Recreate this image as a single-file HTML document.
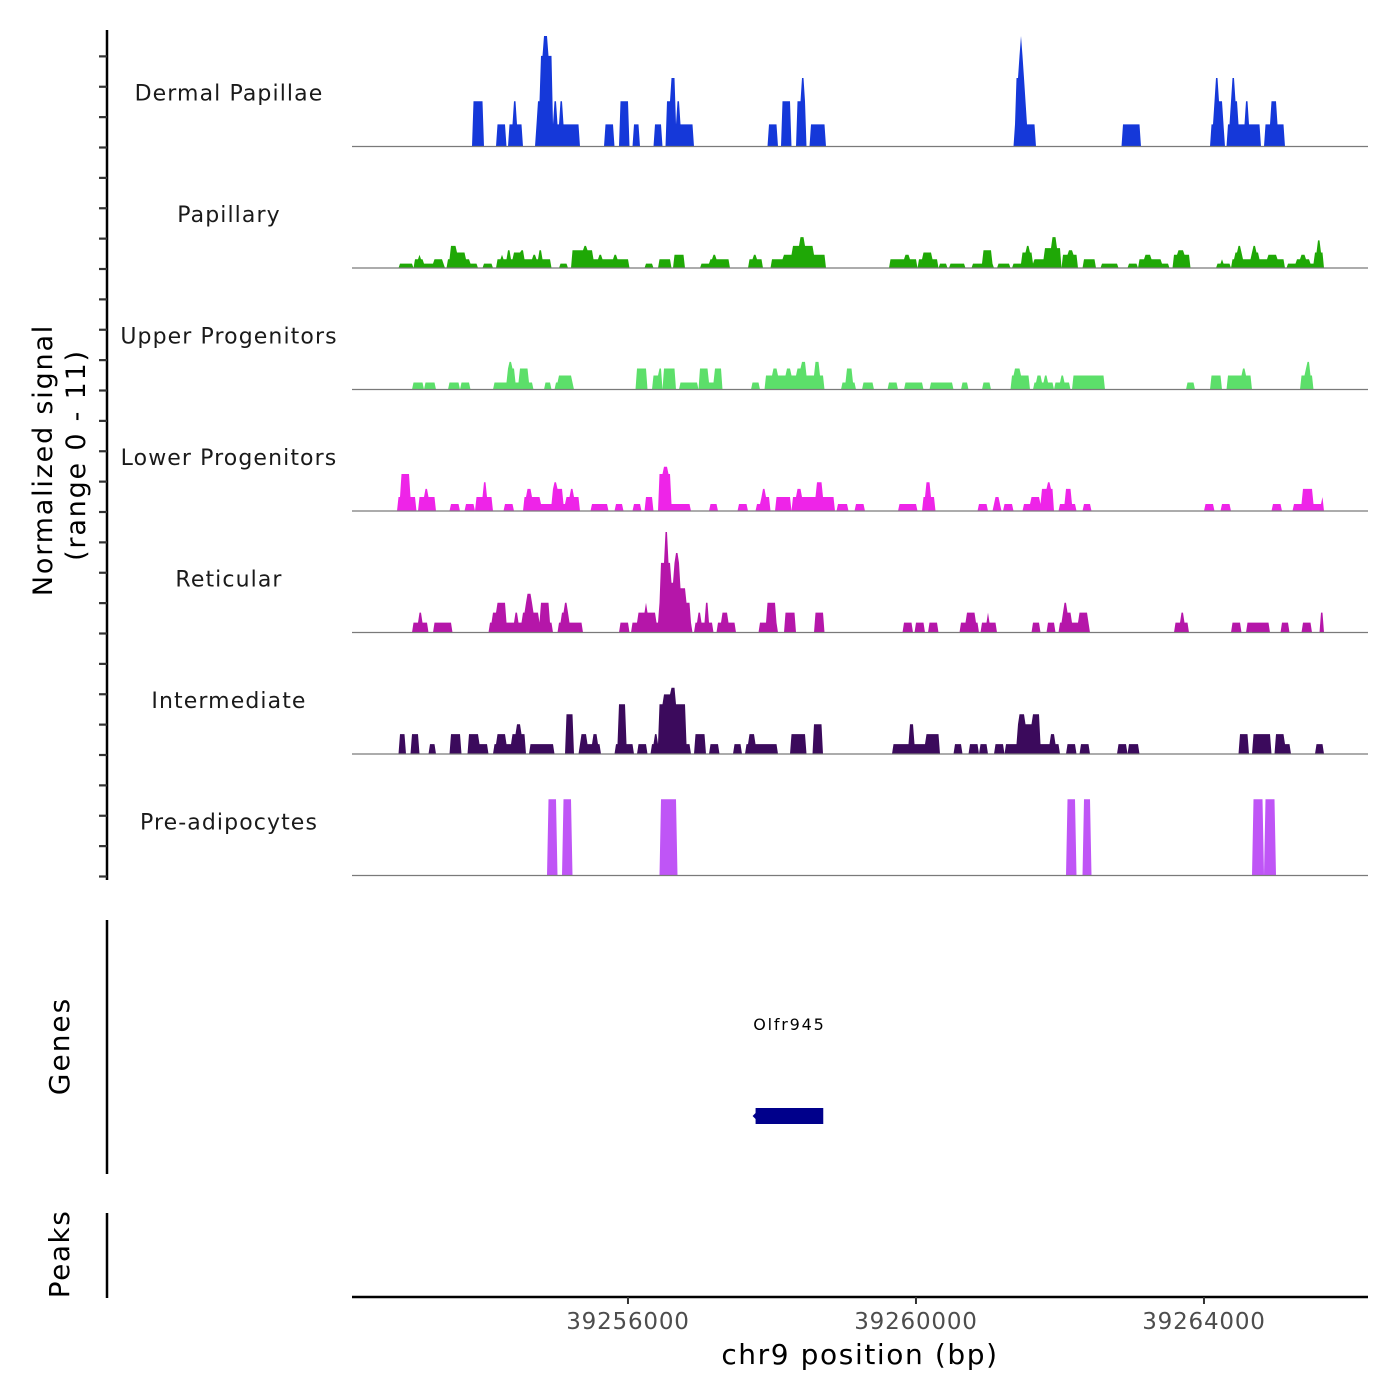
<!DOCTYPE html>
<html><head><meta charset="utf-8"><style>
body{margin:0;background:#fff}
svg{display:block;font-family:"DejaVu Sans","Liberation Sans",sans-serif}
</style></head><body>
<svg id="chart" width="1400" height="1400" viewBox="0 0 1400 1400" xmlns="http://www.w3.org/2000/svg">
<g id="tracks"></g>
<g id="axes"></g>
</svg>
<script>
// positions in kb relative to chr9:39,250,000 ; values in normalized signal
const regionStartKb = 2.167, regionEndKb = 16.278;
const xTickValues = [39256000, 39260000, 39264000];
const xTickLabels = ["39256000", "39260000", "39264000"];
const trackNames = ["Dermal Papillae","Papillary","Upper Progenitors","Lower Progenitors","Reticular","Intermediate","Pre-adipocytes"];
const trackColors = ["#1538d9","#1fa806","#5cdf6a","#ee24e8","#b516a9","#3b0a5c","#bf55f6"];
const yRangeMax = 11;

const dermal = [[3.86,3.99,4.1],[4.19,4.29,2],[4.36,4.53,2],[4.42,4.44,4.1],[4.72,5.17,2],[4.74,4.94,4.1],[4.79,4.94,8.2],[4.82,4.875,10],[4.89,4.92,8.2],[4.97,5.00,4.1],[5.06,5.08,4.1],[5.19,5.32,2],[5.68,5.79,2],[5.90,6.01,4.1],[6.07,6.15,2],[6.375,6.47,2],[6.53,6.89,2],[6.54,6.65,4.1],[6.61,6.64,6.2],[6.68,6.71,4.1],[7.96,8.06,2],[8.15,8.26,4.1],[8.35,8.46,4.1],[8.42,8.44,6.2],[8.54,8.74,2],[11.375,11.65,2],[11.39,11.53,4.1],[11.40,11.51,6.2],[11.43,11.49,8.2],[11.46,11.47,10],[12.875,13.10,2],[14.10,14.28,2],[14.15,14.26,4.1],[14.17,14.19,6.2],[14.32,14.67,2],[14.375,14.47,4.1],[14.39,14.42,6.2],[14.57,14.60,4.1],[14.68,14.78,2],[14.86,15.10,2],[14.96,15.01,4.1],[14.94,14.97,4.1]];
const papillary = [[2.83,3.00,0.4],[3.04,3.44,0.4],[3.04,3.14,0.8],[3.10,3.11,1.2],[3.31,3.43,0.8],[3.49,3.79,0.8],[3.54,3.60,2.0],[3.60,3.74,1.4],[3.81,3.90,0.4],[3.99,4.11,0.4],[4.18,4.92,0.8],[4.25,4.26,1.2],[4.33,4.36,1.6],[4.42,4.50,1.4],[4.51,4.54,1.6],[4.69,4.72,1.2],[4.76,4.79,1.6],[5.06,5.15,0.4],[5.22,5.50,1.6],[5.39,5.42,2.0],[5.50,6.00,0.8],[5.60,5.62,1.2],[5.81,5.83,1.2],[6.24,6.33,0.4],[6.43,6.58,0.8],[6.64,6.78,1.2],[7.01,7.13,0.4],[7.14,7.40,0.8],[7.19,7.22,1.2],[7.68,7.86,0.8],[7.75,7.78,1.2],[7.99,8.14,0.8],[8.17,8.74,1.2],[8.28,8.56,2.0],[8.39,8.44,2.8],[9.64,10.01,0.8],[9.86,9.89,1.2],[10.03,10.29,0.8],[10.11,10.22,1.4],[10.32,10.43,0.4],[10.47,10.68,0.4],[10.78,11.06,0.4],[10.93,11.04,1.6],[11.14,11.29,0.4],[11.36,11.64,0.4],[11.47,11.61,1.4],[11.54,11.57,2.0],[11.65,12.01,0.8],[11.79,12.01,1.8],[11.89,11.94,2.8],[12.03,12.24,1.2],[12.13,12.18,1.6],[12.32,12.49,0.8],[12.58,12.79,0.4],[12.96,13.07,0.4],[13.11,13.39,0.8],[13.19,13.25,1.2],[13.42,13.51,0.4],[13.57,13.79,1.2],[13.64,13.72,1.6],[14.18,14.36,0.4],[14.24,14.25,0.8],[14.39,14.60,0.8],[14.44,14.53,1.4],[14.47,14.50,2.0],[14.60,14.82,0.8],[14.67,14.75,1.4],[14.69,14.72,2.0],[14.83,15.11,0.8],[14.89,15.00,1.2],[15.17,15.65,0.4],[15.28,15.47,0.8],[15.36,15.39,1.2],[15.54,15.65,1.4],[15.58,15.61,2.5]];
const upper = [[3.01,3.14,0.63],[3.18,3.31,0.63],[3.51,3.64,0.63],[3.68,3.79,0.63],[4.15,4.35,0.63],[4.32,4.43,1.9],[4.35,4.38,2.5],[4.43,4.67,0.63],[4.50,4.60,1.9],[4.85,4.93,0.63],[4.99,5.24,0.63],[5.04,5.22,1.27],[6.13,6.26,1.9],[6.35,6.47,1.27],[6.43,6.46,1.9],[6.50,6.64,1.9],[6.72,6.96,0.63],[6.99,7.10,1.9],[7.11,7.29,0.63],[7.21,7.29,1.9],[7.72,7.82,0.63],[7.92,8.14,1.27],[8.01,8.07,1.9],[8.14,8.72,1.27],[8.21,8.26,1.9],[8.35,8.40,1.9],[8.42,8.47,2.5],[8.60,8.65,2.5],[8.97,9.15,0.63],[9.04,9.10,1.9],[9.26,9.39,0.63],[9.63,9.74,0.63],[9.85,10.08,0.63],[10.21,10.51,0.63],[10.64,10.72,0.63],[10.93,11.03,0.63],[11.33,11.57,1.27],[11.38,11.44,1.9],[11.64,11.89,0.63],[11.69,11.74,1.27],[11.78,11.81,1.27],[11.94,12.13,0.63],[12.01,12.04,1.27],[12.18,12.60,1.27],[13.76,13.86,0.63],[14.10,14.24,1.27],[14.33,14.65,1.27],[14.54,14.57,1.9],[15.36,15.51,1.27],[15.42,15.47,1.9],[15.44,15.46,2.5]];
const lower = [[2.81,3.04,1.27],[2.86,2.96,3.35],[3.10,3.31,1.27],[3.18,3.22,2.0],[3.53,3.64,0.63],[3.75,3.86,0.63],[3.90,4.10,1.27],[3.99,4.03,2.6],[4.29,4.40,0.63],[4.56,5.31,0.63],[4.56,4.78,1.27],[4.61,4.65,2.0],[4.96,5.08,2.0],[4.97,5.00,2.6],[5.14,5.31,1.27],[5.21,5.24,2.0],[5.49,5.72,0.63],[5.82,5.92,0.63],[6.07,6.17,0.63],[6.24,6.33,1.27],[6.44,6.58,3.35],[6.50,6.54,4.0],[6.58,6.85,0.63],[7.14,7.24,0.63],[7.54,7.65,0.63],[7.78,7.97,0.63],[7.86,7.97,1.27],[7.88,7.90,2.0],[8.06,8.26,1.27],[8.28,8.57,1.27],[8.35,8.39,2.0],[8.57,8.85,1.27],[8.62,8.69,2.6],[8.92,9.04,0.63],[9.17,9.28,0.63],[9.76,10.01,0.63],[10.10,10.25,1.27],[10.14,10.19,2.6],[10.88,10.99,0.63],[11.10,11.14,1.27],[11.07,11.17,0.63],[11.22,11.33,0.63],[11.50,11.90,0.63],[11.60,11.64,1.27],[11.67,11.71,1.27],[11.75,11.89,2.0],[11.82,11.85,2.6],[12.00,12.22,0.63],[12.08,12.15,2.0],[12.32,12.43,0.63],[14.01,14.13,0.63],[14.25,14.35,0.63],[14.96,15.07,0.63],[15.24,15.56,0.63],[15.38,15.51,2.0],[15.58,15.65,0.63],[15.64,15.65,1.27]];
const reticular = [[3.01,3.21,0.9],[3.10,3.13,1.8],[3.31,3.42,0.9],[3.44,3.54,0.9],[4.07,4.94,0.9],[4.19,4.29,2.7],[4.13,4.18,1.8],[4.44,4.47,1.8],[4.53,4.76,1.8],[4.58,4.67,2.7],[4.61,4.64,3.5],[4.78,4.90,2.7],[5.04,5.35,0.9],[5.08,5.18,1.8],[5.13,5.15,2.7],[5.89,6.00,0.9],[6.06,6.15,0.9],[6.15,6.38,1.8],[6.24,6.26,2.7],[6.38,6.88,0.9],[6.44,6.85,2.7],[6.46,6.58,6.3],[6.51,6.54,9.1],[6.58,6.64,4.5],[6.64,6.72,6.3],[6.66,6.70,7.2],[6.72,6.79,4.0],[6.93,7.17,0.9],[6.97,7.01,1.8],[7.07,7.10,2.7],[7.25,7.49,0.9],[7.31,7.38,1.8],[7.83,8.06,0.9],[7.93,8.04,2.7],[8.19,8.32,1.8],[8.60,8.72,1.8],[9.83,9.94,0.9],[10.00,10.10,0.9],[10.19,10.29,0.9],[10.63,10.85,0.9],[10.71,10.82,1.8],[10.92,11.10,0.9],[10.99,11.01,1.8],[11.63,11.71,0.9],[11.82,11.92,0.9],[11.99,12.40,0.9],[12.03,12.15,1.8],[12.06,12.08,2.7],[12.26,12.38,1.8],[13.61,13.78,0.9],[13.68,13.71,1.8],[14.39,14.50,0.9],[14.60,14.90,0.9],[15.07,15.17,0.9],[15.38,15.49,0.9],[15.62,15.65,1.8]];
const intermediate = [[2.82,2.89,1.8],[3.00,3.08,1.8],[3.24,3.32,0.9],[3.53,3.67,1.8],[3.79,3.92,1.8],[3.93,4.04,0.9],[4.15,4.38,0.9],[4.19,4.29,1.8],[4.40,4.57,1.8],[4.46,4.50,2.7],[4.65,4.75,0.9],[4.76,4.96,0.9],[5.15,5.24,3.6],[5.32,5.60,0.9],[5.36,5.42,1.8],[5.51,5.57,1.8],[5.82,6.07,0.9],[5.88,5.97,4.5],[6.15,6.26,0.9],[6.32,6.85,0.9],[6.38,6.40,1.8],[6.44,6.79,4.5],[6.50,6.64,5.4],[6.61,6.64,6.0],[6.75,6.79,3.6],[6.94,7.07,1.8],[7.15,7.26,0.9],[7.47,7.57,0.9],[7.64,7.85,0.9],[7.69,7.75,1.8],[7.88,8.07,0.9],[8.26,8.46,1.8],[8.59,8.70,2.7],[9.69,10.13,0.9],[9.92,9.97,2.7],[10.15,10.32,1.8],[10.53,10.63,0.9],[10.74,10.85,0.9],[10.90,10.99,0.9],[11.10,11.22,0.9],[11.25,11.35,0.9],[11.36,11.79,0.9],[11.42,11.60,2.7],[11.44,11.50,3.6],[11.63,11.72,3.6],[11.81,11.99,0.9],[11.88,11.91,1.8],[12.10,12.21,0.9],[12.29,12.39,0.9],[12.81,12.93,0.9],[12.96,13.08,0.9],[14.50,14.61,1.8],[14.68,14.92,1.8],[14.99,15.19,0.9],[14.99,15.10,1.8],[15.56,15.64,0.9]];
const preadipocytes = [[4.89,5.00,6.9],[5.10,5.21,6.9],[6.46,6.67,6.9],[12.11,12.22,6.9],[12.32,12.43,6.9],[14.68,14.81,6.9],[14.86,14.99,6.9]];
const trackData = [dermal,papillary,upper,lower,reticular,intermediate,preadipocytes];
const geneStartKb = 7.80, geneEndKb = 8.74;
const geneName = "Olfr945";

const NS="http://www.w3.org/2000/svg";
const X0=352, X1=1368;
function xScale(kb){return X0+(kb-regionStartKb)/(regionEndKb-regionStartKb)*(X1-X0);}
function xScaleBp(bp){return xScale(bp/1000-39250);}
const trackTop=25, trackH=121.5;
function yScale(i,v){return trackTop+(i+1)*trackH-v/yRangeMax*trackH;}
function mk(tag,attrs,parent){const e=document.createElementNS(NS,tag);for(const k in attrs)e.setAttribute(k,attrs[k]);parent.appendChild(e);return e;}
const tracks=document.getElementById('tracks');
const axes=document.getElementById('axes');
const step=1.5;
trackData.forEach((segs,i)=>{
  const g=mk('g',{},tracks);
  
  
  const base=yScale(i,0);
  let d='M'+X0+','+base;
  for(let x=X0;x<=X1;x+=step){
    let v=0;
    segs.forEach(s=>{const a=xScale(s[0]),b=xScale(s[1]);if(x>=a-0.5&&x<=b+0.5&&s[2]>v)v=s[2];});
    d+=' L'+x.toFixed(1)+','+yScale(i,v).toFixed(1);
  }
  d+=' L'+X1+','+base+' Z';
  const p=mk('path',{d:d,fill:trackColors[i]},g);
  
  
  const bl=mk('line',{x1:X0,x2:X1,y1:base,y2:base,stroke:'#7a7a7a','stroke-width':1.2},g);
  
  
  const t=mk('text',{x:229,y:base-46,'text-anchor':'middle','font-size':22,'letter-spacing':'1.1',fill:'#1a1a1a'},g);
  
  
  t.textContent=trackNames[i];
});
// left axis
mk('line',{x1:107,x2:107,y1:30,y2:880,stroke:'#000','stroke-width':2.5},axes);
for(let y=876.5;y>=40;y-=30.375){mk('line',{x1:99,x2:107,y1:y,y2:y,stroke:'#333','stroke-width':2.2},axes);}
const yt=mk('text',{transform:'translate(52,460) rotate(-90)','text-anchor':'middle','font-size':27,'letter-spacing':'1.8',fill:'#000'},axes);


yt.textContent='Normalized signal';
const yt2=mk('text',{transform:'translate(85,455) rotate(-90)','text-anchor':'middle','font-size':27,'letter-spacing':'1.8',fill:'#000'},axes);


yt2.textContent='(range 0 - 11)';
// genes
mk('line',{x1:107,x2:107,y1:920,y2:1174,stroke:'#000','stroke-width':2.5},axes);
const gt=mk('text',{transform:'translate(69,1046) rotate(-90)','text-anchor':'middle','font-size':28,'letter-spacing':'2',fill:'#000'},axes);


gt.textContent='Genes';
const gr=mk('rect',{x:xScale(geneStartKb)-2,y:1108,width:xScale(geneEndKb)-xScale(geneStartKb),height:16,fill:'#00008b'},axes);


mk('path',{d:`M${xScale(geneStartKb)-5},1116 L${xScale(geneStartKb)},1111 L${xScale(geneStartKb)},1121 Z`,fill:'#00008b'},axes);
const gl=mk('text',{x:(xScale(geneStartKb)+xScale(geneEndKb))/2-2,y:1030,'text-anchor':'middle','font-size':16,'letter-spacing':'1.8',fill:'#000'},axes);


gl.textContent=geneName;
// peaks
mk('line',{x1:107,x2:107,y1:1213,y2:1298,stroke:'#000','stroke-width':2.5},axes);
const pt=mk('text',{transform:'translate(69,1254) rotate(-90)','text-anchor':'middle','font-size':28,'letter-spacing':'1.5',fill:'#000'},axes);


pt.textContent='Peaks';
// x axis
const xa=mk('line',{x1:X0,x2:X1,y1:1297,y2:1297,stroke:'#000','stroke-width':2.5},axes);


xTickValues.forEach((v,k)=>{
  const x=xScaleBp(v);
  mk('line',{x1:x,x2:x,y1:1297,y2:1304,stroke:'#333','stroke-width':2},axes);
  const t=mk('text',{x:x,y:1329,'text-anchor':'middle','font-size':23,'letter-spacing':'0.8',fill:'#4d4d4d'},axes);
  
  
  t.textContent=xTickLabels[k];
});
const xt=mk('text',{x:860,y:1364,'text-anchor':'middle','font-size':28,'letter-spacing':'1.6',fill:'#000'},axes);


xt.textContent='chr9 position (bp)';
</script>
</body></html>
